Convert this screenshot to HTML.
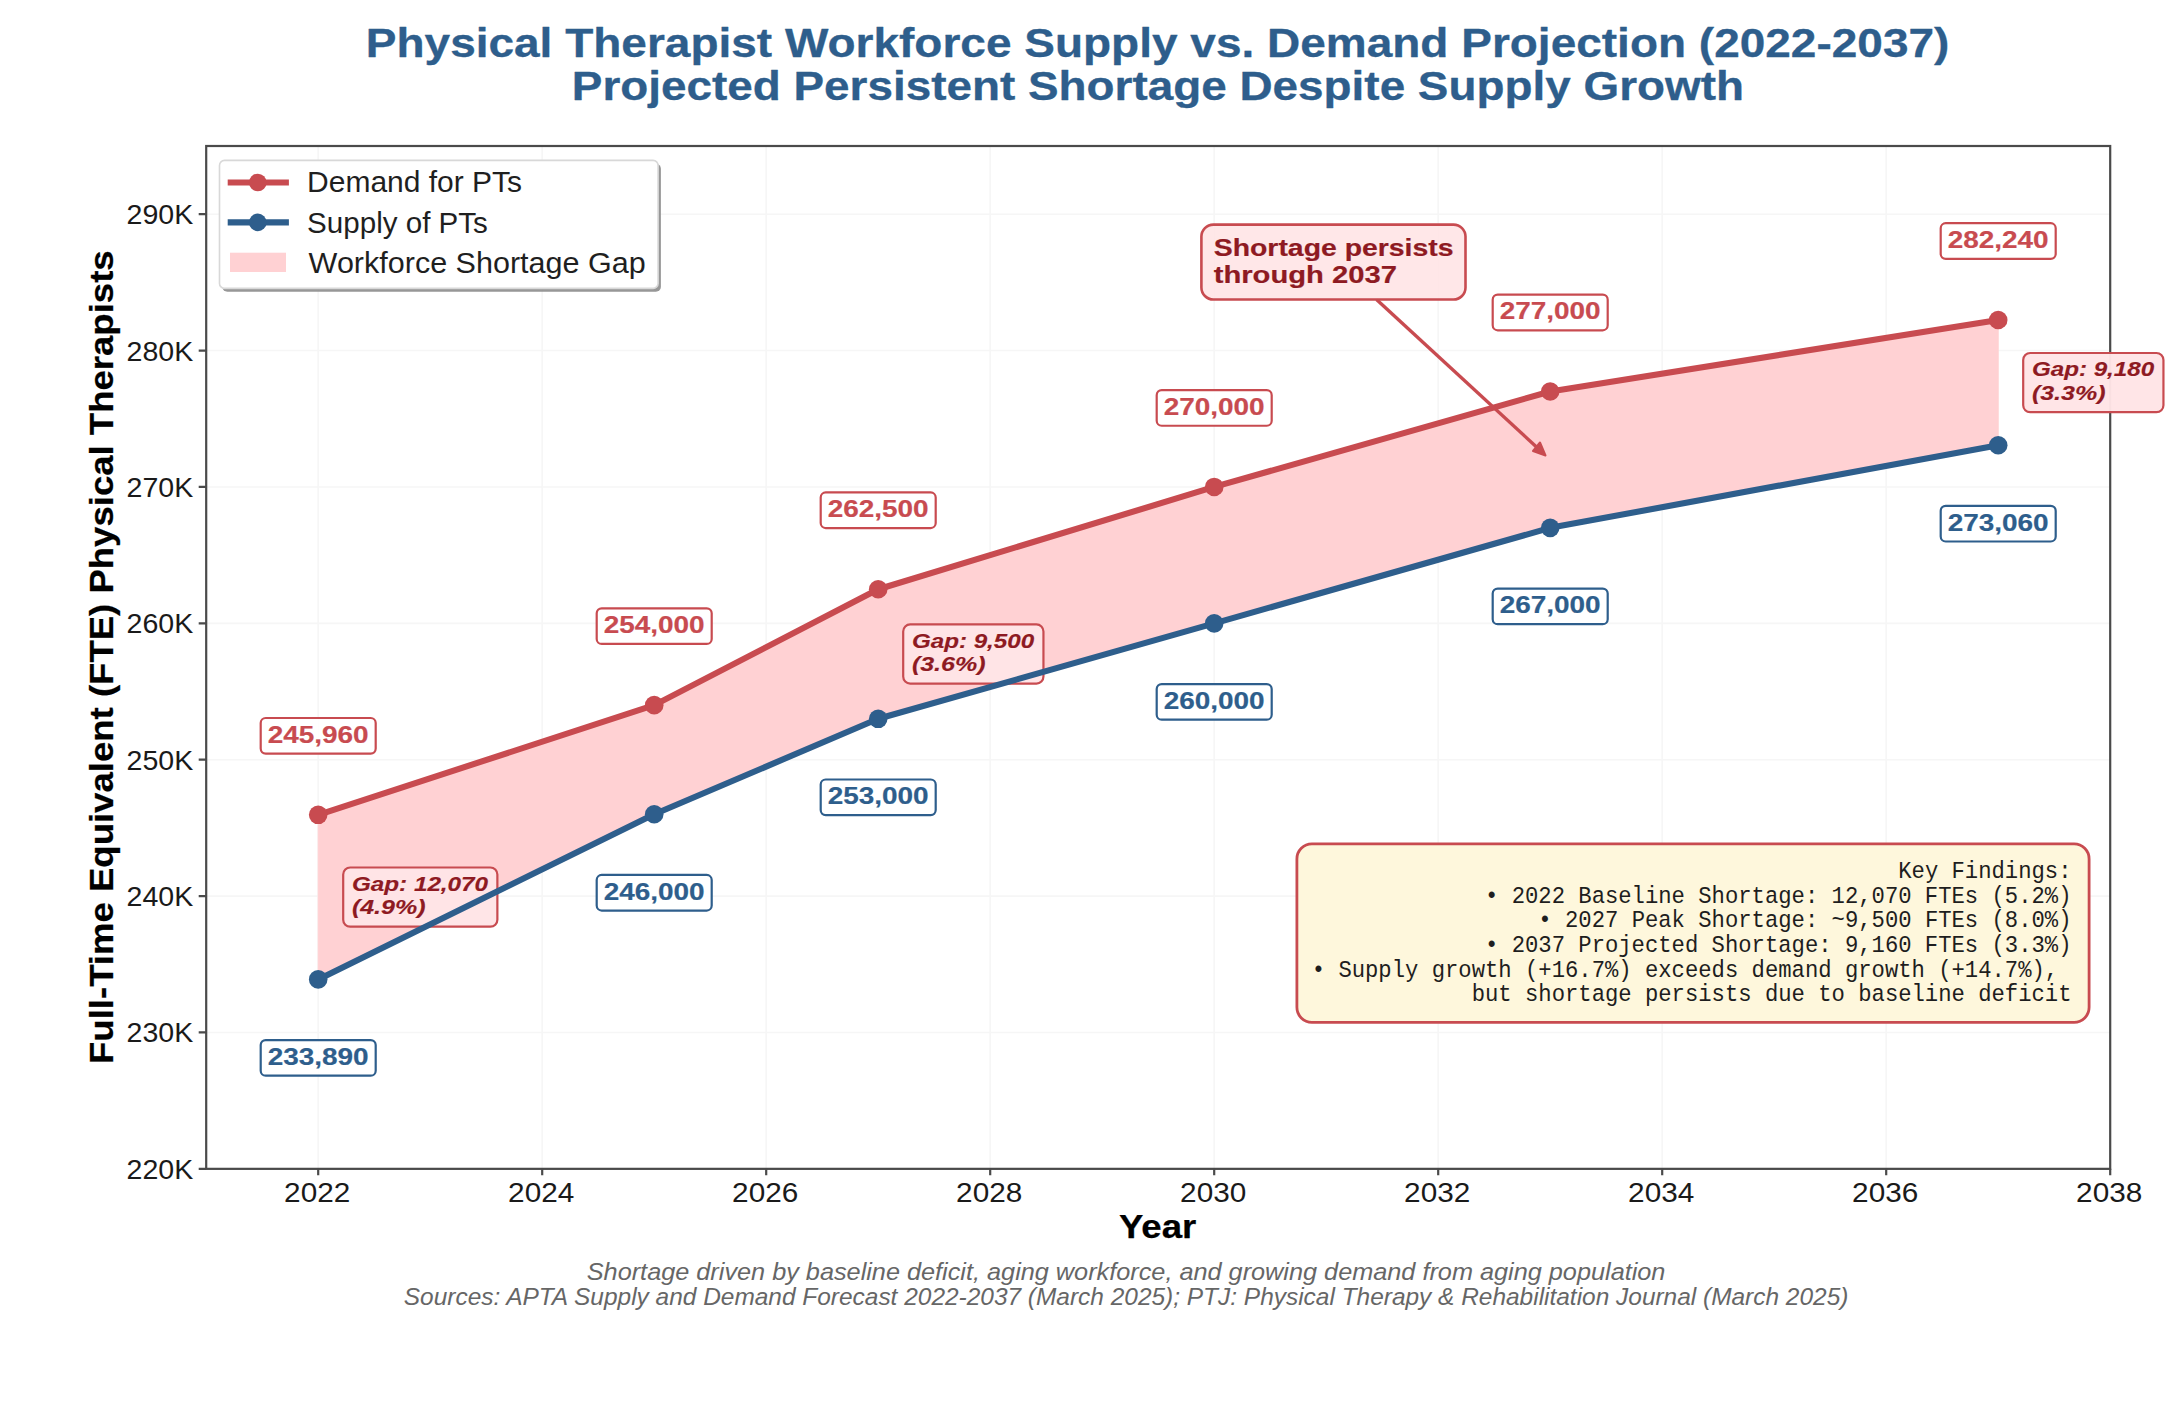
<!DOCTYPE html>
<html><head><meta charset="utf-8"><title>Physical Therapist Workforce Supply vs. Demand Projection</title>
<style>html,body{margin:0;padding:0;background:#fff;}body{width:2168px;height:1412px;overflow:hidden;}svg{display:block;}</style>
</head><body>
<svg width="2168" height="1412" viewBox="0 0 2168 1412">
<rect x="0" y="0" width="2168" height="1412" fill="#ffffff"/>
<text x="1157.60" y="56.80" font-family='"Liberation Sans", sans-serif' font-size="40.72" font-weight="bold" font-style="normal" fill="#2E5E8C" text-anchor="middle" textLength="1583.58" lengthAdjust="spacingAndGlyphs" xml:space="preserve"  stroke="#2E5E8C" stroke-width="0.31" stroke-linejoin="round">Physical Therapist Workforce Supply vs. Demand Projection (2022-2037)</text>
<text x="1157.90" y="100.10" font-family='"Liberation Sans", sans-serif' font-size="40.72" font-weight="bold" font-style="normal" fill="#2E5E8C" text-anchor="middle" textLength="1172.13" lengthAdjust="spacingAndGlyphs" xml:space="preserve"  stroke="#2E5E8C" stroke-width="0.31" stroke-linejoin="round">Projected Persistent Shortage Despite Supply Growth</text>
<path d="M318.20 146.00V1168.85M542.20 146.00V1168.85M766.20 146.00V1168.85M990.20 146.00V1168.85M1214.20 146.00V1168.85M1438.20 146.00V1168.85M1662.20 146.00V1168.85M1886.20 146.00V1168.85M206.20 1032.47H2110.20M206.20 896.09H2110.20M206.20 759.71H2110.20M206.20 623.33H2110.20M206.20 486.95H2110.20M206.20 350.57H2110.20M206.20 214.19H2110.20" stroke="#f6f6f6" stroke-width="1.6" fill="none"/>
<polygon points="318.20,814.81 654.20,705.16 878.20,589.24 1214.20,486.95 1550.20,391.48 1998.20,320.02 1998.20,445.22 1550.20,527.86 1214.20,623.33 878.20,718.80 654.20,814.26 318.20,979.42" fill="#FFD1D3" stroke="#FFD1D3" stroke-width="1"/>
<rect x="206.20" y="146.00" width="1904.00" height="1022.85" fill="none" stroke="#4a4a4a" stroke-width="2.2"/>
<path d="M318.20 1168.85V1175.35M542.20 1168.85V1175.35M766.20 1168.85V1175.35M990.20 1168.85V1175.35M1214.20 1168.85V1175.35M1438.20 1168.85V1175.35M1662.20 1168.85V1175.35M1886.20 1168.85V1175.35M2110.20 1168.85V1175.35M206.20 1168.85H198.70M206.20 1032.47H198.70M206.20 896.09H198.70M206.20 759.71H198.70M206.20 623.33H198.70M206.20 486.95H198.70M206.20 350.57H198.70M206.20 214.19H198.70" stroke="#4a4a4a" stroke-width="2.2" fill="none"/>
<text x="317.20" y="1201.60" font-family='"Liberation Sans", sans-serif' font-size="27.43" font-weight="normal" font-style="normal" fill="#1a1a1a" text-anchor="middle" textLength="66.17" lengthAdjust="spacingAndGlyphs" xml:space="preserve" >2022</text>
<text x="541.20" y="1201.60" font-family='"Liberation Sans", sans-serif' font-size="27.43" font-weight="normal" font-style="normal" fill="#1a1a1a" text-anchor="middle" textLength="66.17" lengthAdjust="spacingAndGlyphs" xml:space="preserve" >2024</text>
<text x="765.20" y="1201.60" font-family='"Liberation Sans", sans-serif' font-size="27.43" font-weight="normal" font-style="normal" fill="#1a1a1a" text-anchor="middle" textLength="66.17" lengthAdjust="spacingAndGlyphs" xml:space="preserve" >2026</text>
<text x="989.20" y="1201.60" font-family='"Liberation Sans", sans-serif' font-size="27.43" font-weight="normal" font-style="normal" fill="#1a1a1a" text-anchor="middle" textLength="66.17" lengthAdjust="spacingAndGlyphs" xml:space="preserve" >2028</text>
<text x="1213.20" y="1201.60" font-family='"Liberation Sans", sans-serif' font-size="27.43" font-weight="normal" font-style="normal" fill="#1a1a1a" text-anchor="middle" textLength="66.17" lengthAdjust="spacingAndGlyphs" xml:space="preserve" >2030</text>
<text x="1437.20" y="1201.60" font-family='"Liberation Sans", sans-serif' font-size="27.43" font-weight="normal" font-style="normal" fill="#1a1a1a" text-anchor="middle" textLength="66.17" lengthAdjust="spacingAndGlyphs" xml:space="preserve" >2032</text>
<text x="1661.20" y="1201.60" font-family='"Liberation Sans", sans-serif' font-size="27.43" font-weight="normal" font-style="normal" fill="#1a1a1a" text-anchor="middle" textLength="66.17" lengthAdjust="spacingAndGlyphs" xml:space="preserve" >2034</text>
<text x="1885.20" y="1201.60" font-family='"Liberation Sans", sans-serif' font-size="27.43" font-weight="normal" font-style="normal" fill="#1a1a1a" text-anchor="middle" textLength="66.17" lengthAdjust="spacingAndGlyphs" xml:space="preserve" >2036</text>
<text x="2109.20" y="1201.60" font-family='"Liberation Sans", sans-serif' font-size="27.43" font-weight="normal" font-style="normal" fill="#1a1a1a" text-anchor="middle" textLength="66.17" lengthAdjust="spacingAndGlyphs" xml:space="preserve" >2038</text>
<text x="193.20" y="1178.85" font-family='"Liberation Sans", sans-serif' font-size="27.43" font-weight="normal" font-style="normal" fill="#1a1a1a" text-anchor="end" textLength="66.68" lengthAdjust="spacingAndGlyphs" xml:space="preserve" >220K</text>
<text x="193.20" y="1042.47" font-family='"Liberation Sans", sans-serif' font-size="27.43" font-weight="normal" font-style="normal" fill="#1a1a1a" text-anchor="end" textLength="66.68" lengthAdjust="spacingAndGlyphs" xml:space="preserve" >230K</text>
<text x="193.20" y="906.09" font-family='"Liberation Sans", sans-serif' font-size="27.43" font-weight="normal" font-style="normal" fill="#1a1a1a" text-anchor="end" textLength="66.68" lengthAdjust="spacingAndGlyphs" xml:space="preserve" >240K</text>
<text x="193.20" y="769.71" font-family='"Liberation Sans", sans-serif' font-size="27.43" font-weight="normal" font-style="normal" fill="#1a1a1a" text-anchor="end" textLength="66.68" lengthAdjust="spacingAndGlyphs" xml:space="preserve" >250K</text>
<text x="193.20" y="633.33" font-family='"Liberation Sans", sans-serif' font-size="27.43" font-weight="normal" font-style="normal" fill="#1a1a1a" text-anchor="end" textLength="66.68" lengthAdjust="spacingAndGlyphs" xml:space="preserve" >260K</text>
<text x="193.20" y="496.95" font-family='"Liberation Sans", sans-serif' font-size="27.43" font-weight="normal" font-style="normal" fill="#1a1a1a" text-anchor="end" textLength="66.68" lengthAdjust="spacingAndGlyphs" xml:space="preserve" >270K</text>
<text x="193.20" y="360.57" font-family='"Liberation Sans", sans-serif' font-size="27.43" font-weight="normal" font-style="normal" fill="#1a1a1a" text-anchor="end" textLength="66.68" lengthAdjust="spacingAndGlyphs" xml:space="preserve" >280K</text>
<text x="193.20" y="224.19" font-family='"Liberation Sans", sans-serif' font-size="27.43" font-weight="normal" font-style="normal" fill="#1a1a1a" text-anchor="end" textLength="66.68" lengthAdjust="spacingAndGlyphs" xml:space="preserve" >290K</text>
<rect x="343.20" y="867.51" width="154.17" height="59.2" rx="7" ry="7" fill="#FFE4E6" fill-opacity="0.97" stroke="#C84B50" stroke-width="2.2"/>
<text x="351.90" y="890.61" font-family='"Liberation Sans", sans-serif' font-size="21.10" font-weight="bold" font-style="italic" fill="#8E1A22" text-anchor="start" textLength="136.21" lengthAdjust="spacingAndGlyphs" xml:space="preserve"  stroke="#8E1A22" stroke-width="0.16" stroke-linejoin="round">Gap: 12,070</text>
<text x="351.90" y="914.11" font-family='"Liberation Sans", sans-serif' font-size="21.10" font-weight="bold" font-style="italic" fill="#8E1A22" text-anchor="start" textLength="73.59" lengthAdjust="spacingAndGlyphs" xml:space="preserve"  stroke="#8E1A22" stroke-width="0.16" stroke-linejoin="round">(4.9%)</text>
<rect x="903.20" y="624.42" width="140.25" height="59.2" rx="7" ry="7" fill="#FFE4E6" fill-opacity="0.97" stroke="#C84B50" stroke-width="2.2"/>
<text x="911.90" y="647.52" font-family='"Liberation Sans", sans-serif' font-size="21.10" font-weight="bold" font-style="italic" fill="#8E1A22" text-anchor="start" textLength="122.29" lengthAdjust="spacingAndGlyphs" xml:space="preserve"  stroke="#8E1A22" stroke-width="0.16" stroke-linejoin="round">Gap: 9,500</text>
<text x="911.90" y="671.02" font-family='"Liberation Sans", sans-serif' font-size="21.10" font-weight="bold" font-style="italic" fill="#8E1A22" text-anchor="start" textLength="73.59" lengthAdjust="spacingAndGlyphs" xml:space="preserve"  stroke="#8E1A22" stroke-width="0.16" stroke-linejoin="round">(3.6%)</text>
<rect x="2023.20" y="353.02" width="140.25" height="59.2" rx="7" ry="7" fill="#FFE4E6" fill-opacity="0.97" stroke="#C84B50" stroke-width="2.2"/>
<text x="2031.90" y="376.12" font-family='"Liberation Sans", sans-serif' font-size="21.10" font-weight="bold" font-style="italic" fill="#8E1A22" text-anchor="start" textLength="122.29" lengthAdjust="spacingAndGlyphs" xml:space="preserve"  stroke="#8E1A22" stroke-width="0.16" stroke-linejoin="round">Gap: 9,180</text>
<text x="2031.90" y="399.62" font-family='"Liberation Sans", sans-serif' font-size="21.10" font-weight="bold" font-style="italic" fill="#8E1A22" text-anchor="start" textLength="73.59" lengthAdjust="spacingAndGlyphs" xml:space="preserve"  stroke="#8E1A22" stroke-width="0.16" stroke-linejoin="round">(3.3%)</text>
<polyline points="318.20,979.42 654.20,814.26 878.20,718.80 1214.20,623.33 1550.20,527.86 1998.20,445.22" fill="none" stroke="#2E5E8C" stroke-width="6.1" stroke-linejoin="round" stroke-linecap="round"/>
<circle cx="318.20" cy="979.42" r="9.3" fill="#2E5E8C"/>
<circle cx="654.20" cy="814.26" r="9.3" fill="#2E5E8C"/>
<circle cx="878.20" cy="718.80" r="9.3" fill="#2E5E8C"/>
<circle cx="1214.20" cy="623.33" r="9.3" fill="#2E5E8C"/>
<circle cx="1550.20" cy="527.86" r="9.3" fill="#2E5E8C"/>
<circle cx="1998.20" cy="445.22" r="9.3" fill="#2E5E8C"/>
<polyline points="318.20,814.81 654.20,705.16 878.20,589.24 1214.20,486.95 1550.20,391.48 1998.20,320.02" fill="none" stroke="#C84B50" stroke-width="6.1" stroke-linejoin="round" stroke-linecap="round"/>
<circle cx="318.20" cy="814.81" r="9.3" fill="#C84B50"/>
<circle cx="654.20" cy="705.16" r="9.3" fill="#C84B50"/>
<circle cx="878.20" cy="589.24" r="9.3" fill="#C84B50"/>
<circle cx="1214.20" cy="486.95" r="9.3" fill="#C84B50"/>
<circle cx="1550.20" cy="391.48" r="9.3" fill="#C84B50"/>
<circle cx="1998.20" cy="320.02" r="9.3" fill="#C84B50"/>
<text x="1157.60" y="1238.20" font-family='"Liberation Sans", sans-serif' font-size="33.02" font-weight="bold" font-style="normal" fill="#000" text-anchor="middle" textLength="77.33" lengthAdjust="spacingAndGlyphs" xml:space="preserve"  stroke="#000" stroke-width="0.25" stroke-linejoin="round">Year</text>
<g transform="translate(112.5 657.15) rotate(-90)">
<text x="0.00" y="0.00" font-family='"Liberation Sans", sans-serif' font-size="33.02" font-weight="bold" font-style="normal" fill="#000" text-anchor="middle" textLength="813.63" lengthAdjust="spacingAndGlyphs" xml:space="preserve"  stroke="#000" stroke-width="0.25" stroke-linejoin="round">Full-Time Equivalent (FTE) Physical Therapists</text>
</g>
<rect x="260.70" y="718.01" width="115" height="35.6" rx="5" ry="5" fill="#ffffff" fill-opacity="0.9" stroke="#C84B50" stroke-width="2.2"/>
<text x="318.20" y="742.61" font-family='"Liberation Sans", sans-serif' font-size="23.42" font-weight="bold" font-style="normal" fill="#C84B50" text-anchor="middle" textLength="100.94" lengthAdjust="spacingAndGlyphs" xml:space="preserve"  stroke="#C84B50" stroke-width="0.18" stroke-linejoin="round">245,960</text>
<rect x="260.70" y="1040.12" width="115" height="35.6" rx="5" ry="5" fill="#ffffff" fill-opacity="0.9" stroke="#2E5E8C" stroke-width="2.2"/>
<text x="318.20" y="1064.72" font-family='"Liberation Sans", sans-serif' font-size="23.42" font-weight="bold" font-style="normal" fill="#2E5E8C" text-anchor="middle" textLength="100.94" lengthAdjust="spacingAndGlyphs" xml:space="preserve"  stroke="#2E5E8C" stroke-width="0.18" stroke-linejoin="round">233,890</text>
<rect x="596.70" y="608.36" width="115" height="35.6" rx="5" ry="5" fill="#ffffff" fill-opacity="0.9" stroke="#C84B50" stroke-width="2.2"/>
<text x="654.20" y="632.96" font-family='"Liberation Sans", sans-serif' font-size="23.42" font-weight="bold" font-style="normal" fill="#C84B50" text-anchor="middle" textLength="100.94" lengthAdjust="spacingAndGlyphs" xml:space="preserve"  stroke="#C84B50" stroke-width="0.18" stroke-linejoin="round">254,000</text>
<rect x="596.70" y="874.96" width="115" height="35.6" rx="5" ry="5" fill="#ffffff" fill-opacity="0.9" stroke="#2E5E8C" stroke-width="2.2"/>
<text x="654.20" y="899.56" font-family='"Liberation Sans", sans-serif' font-size="23.42" font-weight="bold" font-style="normal" fill="#2E5E8C" text-anchor="middle" textLength="100.94" lengthAdjust="spacingAndGlyphs" xml:space="preserve"  stroke="#2E5E8C" stroke-width="0.18" stroke-linejoin="round">246,000</text>
<rect x="820.70" y="492.44" width="115" height="35.6" rx="5" ry="5" fill="#ffffff" fill-opacity="0.9" stroke="#C84B50" stroke-width="2.2"/>
<text x="878.20" y="517.03" font-family='"Liberation Sans", sans-serif' font-size="23.42" font-weight="bold" font-style="normal" fill="#C84B50" text-anchor="middle" textLength="100.94" lengthAdjust="spacingAndGlyphs" xml:space="preserve"  stroke="#C84B50" stroke-width="0.18" stroke-linejoin="round">262,500</text>
<rect x="820.70" y="779.50" width="115" height="35.6" rx="5" ry="5" fill="#ffffff" fill-opacity="0.9" stroke="#2E5E8C" stroke-width="2.2"/>
<text x="878.20" y="804.10" font-family='"Liberation Sans", sans-serif' font-size="23.42" font-weight="bold" font-style="normal" fill="#2E5E8C" text-anchor="middle" textLength="100.94" lengthAdjust="spacingAndGlyphs" xml:space="preserve"  stroke="#2E5E8C" stroke-width="0.18" stroke-linejoin="round">253,000</text>
<rect x="1156.70" y="390.15" width="115" height="35.6" rx="5" ry="5" fill="#ffffff" fill-opacity="0.9" stroke="#C84B50" stroke-width="2.2"/>
<text x="1214.20" y="414.75" font-family='"Liberation Sans", sans-serif' font-size="23.42" font-weight="bold" font-style="normal" fill="#C84B50" text-anchor="middle" textLength="100.94" lengthAdjust="spacingAndGlyphs" xml:space="preserve"  stroke="#C84B50" stroke-width="0.18" stroke-linejoin="round">270,000</text>
<rect x="1156.70" y="684.03" width="115" height="35.6" rx="5" ry="5" fill="#ffffff" fill-opacity="0.9" stroke="#2E5E8C" stroke-width="2.2"/>
<text x="1214.20" y="708.63" font-family='"Liberation Sans", sans-serif' font-size="23.42" font-weight="bold" font-style="normal" fill="#2E5E8C" text-anchor="middle" textLength="100.94" lengthAdjust="spacingAndGlyphs" xml:space="preserve"  stroke="#2E5E8C" stroke-width="0.18" stroke-linejoin="round">260,000</text>
<rect x="1492.70" y="294.68" width="115" height="35.6" rx="5" ry="5" fill="#ffffff" fill-opacity="0.9" stroke="#C84B50" stroke-width="2.2"/>
<text x="1550.20" y="319.28" font-family='"Liberation Sans", sans-serif' font-size="23.42" font-weight="bold" font-style="normal" fill="#C84B50" text-anchor="middle" textLength="100.94" lengthAdjust="spacingAndGlyphs" xml:space="preserve"  stroke="#C84B50" stroke-width="0.18" stroke-linejoin="round">277,000</text>
<rect x="1492.70" y="588.56" width="115" height="35.6" rx="5" ry="5" fill="#ffffff" fill-opacity="0.9" stroke="#2E5E8C" stroke-width="2.2"/>
<text x="1550.20" y="613.16" font-family='"Liberation Sans", sans-serif' font-size="23.42" font-weight="bold" font-style="normal" fill="#2E5E8C" text-anchor="middle" textLength="100.94" lengthAdjust="spacingAndGlyphs" xml:space="preserve"  stroke="#2E5E8C" stroke-width="0.18" stroke-linejoin="round">267,000</text>
<rect x="1940.70" y="223.22" width="115" height="35.6" rx="5" ry="5" fill="#ffffff" fill-opacity="0.9" stroke="#C84B50" stroke-width="2.2"/>
<text x="1998.20" y="247.82" font-family='"Liberation Sans", sans-serif' font-size="23.42" font-weight="bold" font-style="normal" fill="#C84B50" text-anchor="middle" textLength="100.94" lengthAdjust="spacingAndGlyphs" xml:space="preserve"  stroke="#C84B50" stroke-width="0.18" stroke-linejoin="round">282,240</text>
<rect x="1940.70" y="505.92" width="115" height="35.6" rx="5" ry="5" fill="#ffffff" fill-opacity="0.9" stroke="#2E5E8C" stroke-width="2.2"/>
<text x="1998.20" y="530.52" font-family='"Liberation Sans", sans-serif' font-size="23.42" font-weight="bold" font-style="normal" fill="#2E5E8C" text-anchor="middle" textLength="100.94" lengthAdjust="spacingAndGlyphs" xml:space="preserve"  stroke="#2E5E8C" stroke-width="0.18" stroke-linejoin="round">273,060</text>
<path d="M1376.5 299.5 L1542.5 452.5" stroke="#C84B50" stroke-width="3.4" fill="none"/>
<path d="M1545.5 455.5 L1533 451 L1540 442.5 Z" fill="#C84B50" stroke="#C84B50" stroke-width="2" stroke-linejoin="round"/>
<rect x="1201.4" y="224.6" width="264.1" height="74.9" rx="12" ry="12" fill="#FFE4E6" fill-opacity="0.9" stroke="#C84B50" stroke-width="2.6"/>
<text x="1213.72" y="256.00" font-family='"Liberation Sans", sans-serif' font-size="23.84" font-weight="bold" font-style="normal" fill="#8E1A22" text-anchor="start" textLength="239.83" lengthAdjust="spacingAndGlyphs" xml:space="preserve"  stroke="#8E1A22" stroke-width="0.19" stroke-linejoin="round">Shortage persists</text>
<text x="1213.72" y="282.60" font-family='"Liberation Sans", sans-serif' font-size="23.84" font-weight="bold" font-style="normal" fill="#8E1A22" text-anchor="start" textLength="183.20" lengthAdjust="spacingAndGlyphs" xml:space="preserve"  stroke="#8E1A22" stroke-width="0.19" stroke-linejoin="round">through 2037</text>
<rect x="222.3" y="163.8" width="438.6" height="128" rx="5" ry="5" fill="#8c8c8c" fill-opacity="0.9"/>
<rect x="219.5" y="160.4" width="438.6" height="128" rx="5" ry="5" fill="#ffffff" stroke="#d8d8d8" stroke-width="1.6"/>
<path d="M227.7 182.5H288.9" stroke="#C84B50" stroke-width="6.2"/><circle cx="257.8" cy="182.5" r="8.8" fill="#C84B50"/>
<path d="M227.7 222.4H288.9" stroke="#2E5E8C" stroke-width="6.2"/><circle cx="257.8" cy="222.4" r="8.8" fill="#2E5E8C"/>
<rect x="230" y="252.7" width="56" height="19.3" fill="#FFD1D3"/>
<text x="307.05" y="192.10" font-family='"Liberation Sans", sans-serif' font-size="29.01" font-weight="normal" font-style="normal" fill="#1f1f1f" text-anchor="start" textLength="215.07" lengthAdjust="spacingAndGlyphs" xml:space="preserve" >Demand for PTs</text>
<text x="307.05" y="232.50" font-family='"Liberation Sans", sans-serif' font-size="29.01" font-weight="normal" font-style="normal" fill="#1f1f1f" text-anchor="start" textLength="180.86" lengthAdjust="spacingAndGlyphs" xml:space="preserve" >Supply of PTs</text>
<text x="308.64" y="272.60" font-family='"Liberation Sans", sans-serif' font-size="29.01" font-weight="normal" font-style="normal" fill="#1f1f1f" text-anchor="start" textLength="337.01" lengthAdjust="spacingAndGlyphs" xml:space="preserve" >Workforce Shortage Gap</text>
<rect x="1296.9" y="843.9" width="792.2" height="178.4" rx="15" ry="15" fill="#FEF7DC" stroke="#C84B50" stroke-width="2.8"/>
<text x="2071.50" y="878.30" font-family='"Liberation Mono", monospace' font-size="23.69" font-weight="normal" font-style="normal" fill="#1e1e1e" text-anchor="end" textLength="173.28" lengthAdjust="spacingAndGlyphs" xml:space="preserve" >Key Findings:</text>
<text x="2071.50" y="902.90" font-family='"Liberation Mono", monospace' font-size="23.69" font-weight="normal" font-style="normal" fill="#1e1e1e" text-anchor="end" textLength="586.49" lengthAdjust="spacingAndGlyphs" xml:space="preserve" >• 2022 Baseline Shortage: 12,070 FTEs (5.2%)</text>
<text x="2071.50" y="927.40" font-family='"Liberation Mono", monospace' font-size="23.69" font-weight="normal" font-style="normal" fill="#1e1e1e" text-anchor="end" textLength="533.17" lengthAdjust="spacingAndGlyphs" xml:space="preserve" >• 2027 Peak Shortage: ~9,500 FTEs (8.0%)</text>
<text x="2071.50" y="951.90" font-family='"Liberation Mono", monospace' font-size="23.69" font-weight="normal" font-style="normal" fill="#1e1e1e" text-anchor="end" textLength="586.49" lengthAdjust="spacingAndGlyphs" xml:space="preserve" >• 2037 Projected Shortage: 9,160 FTEs (3.3%)</text>
<text x="2071.50" y="976.50" font-family='"Liberation Mono", monospace' font-size="23.69" font-weight="normal" font-style="normal" fill="#1e1e1e" text-anchor="end" textLength="759.77" lengthAdjust="spacingAndGlyphs" xml:space="preserve" >• Supply growth (+16.7%) exceeds demand growth (+14.7%), </text>
<text x="2071.50" y="1001.00" font-family='"Liberation Mono", monospace' font-size="23.69" font-weight="normal" font-style="normal" fill="#1e1e1e" text-anchor="end" textLength="599.82" lengthAdjust="spacingAndGlyphs" xml:space="preserve" >but shortage persists due to baseline deficit</text>
<text x="1126.10" y="1279.70" font-family='"Liberation Sans", sans-serif' font-size="23.26" font-weight="normal" font-style="italic" fill="#666666" text-anchor="middle" textLength="1078.67" lengthAdjust="spacingAndGlyphs" xml:space="preserve" >Shortage driven by baseline deficit, aging workforce, and growing demand from aging population</text>
<text x="1126.10" y="1305.30" font-family='"Liberation Sans", sans-serif' font-size="23.26" font-weight="normal" font-style="italic" fill="#666666" text-anchor="middle" textLength="1444.57" lengthAdjust="spacingAndGlyphs" xml:space="preserve" >Sources: APTA Supply and Demand Forecast 2022-2037 (March 2025); PTJ: Physical Therapy &amp; Rehabilitation Journal (March 2025)</text>
</svg>
</body></html>
